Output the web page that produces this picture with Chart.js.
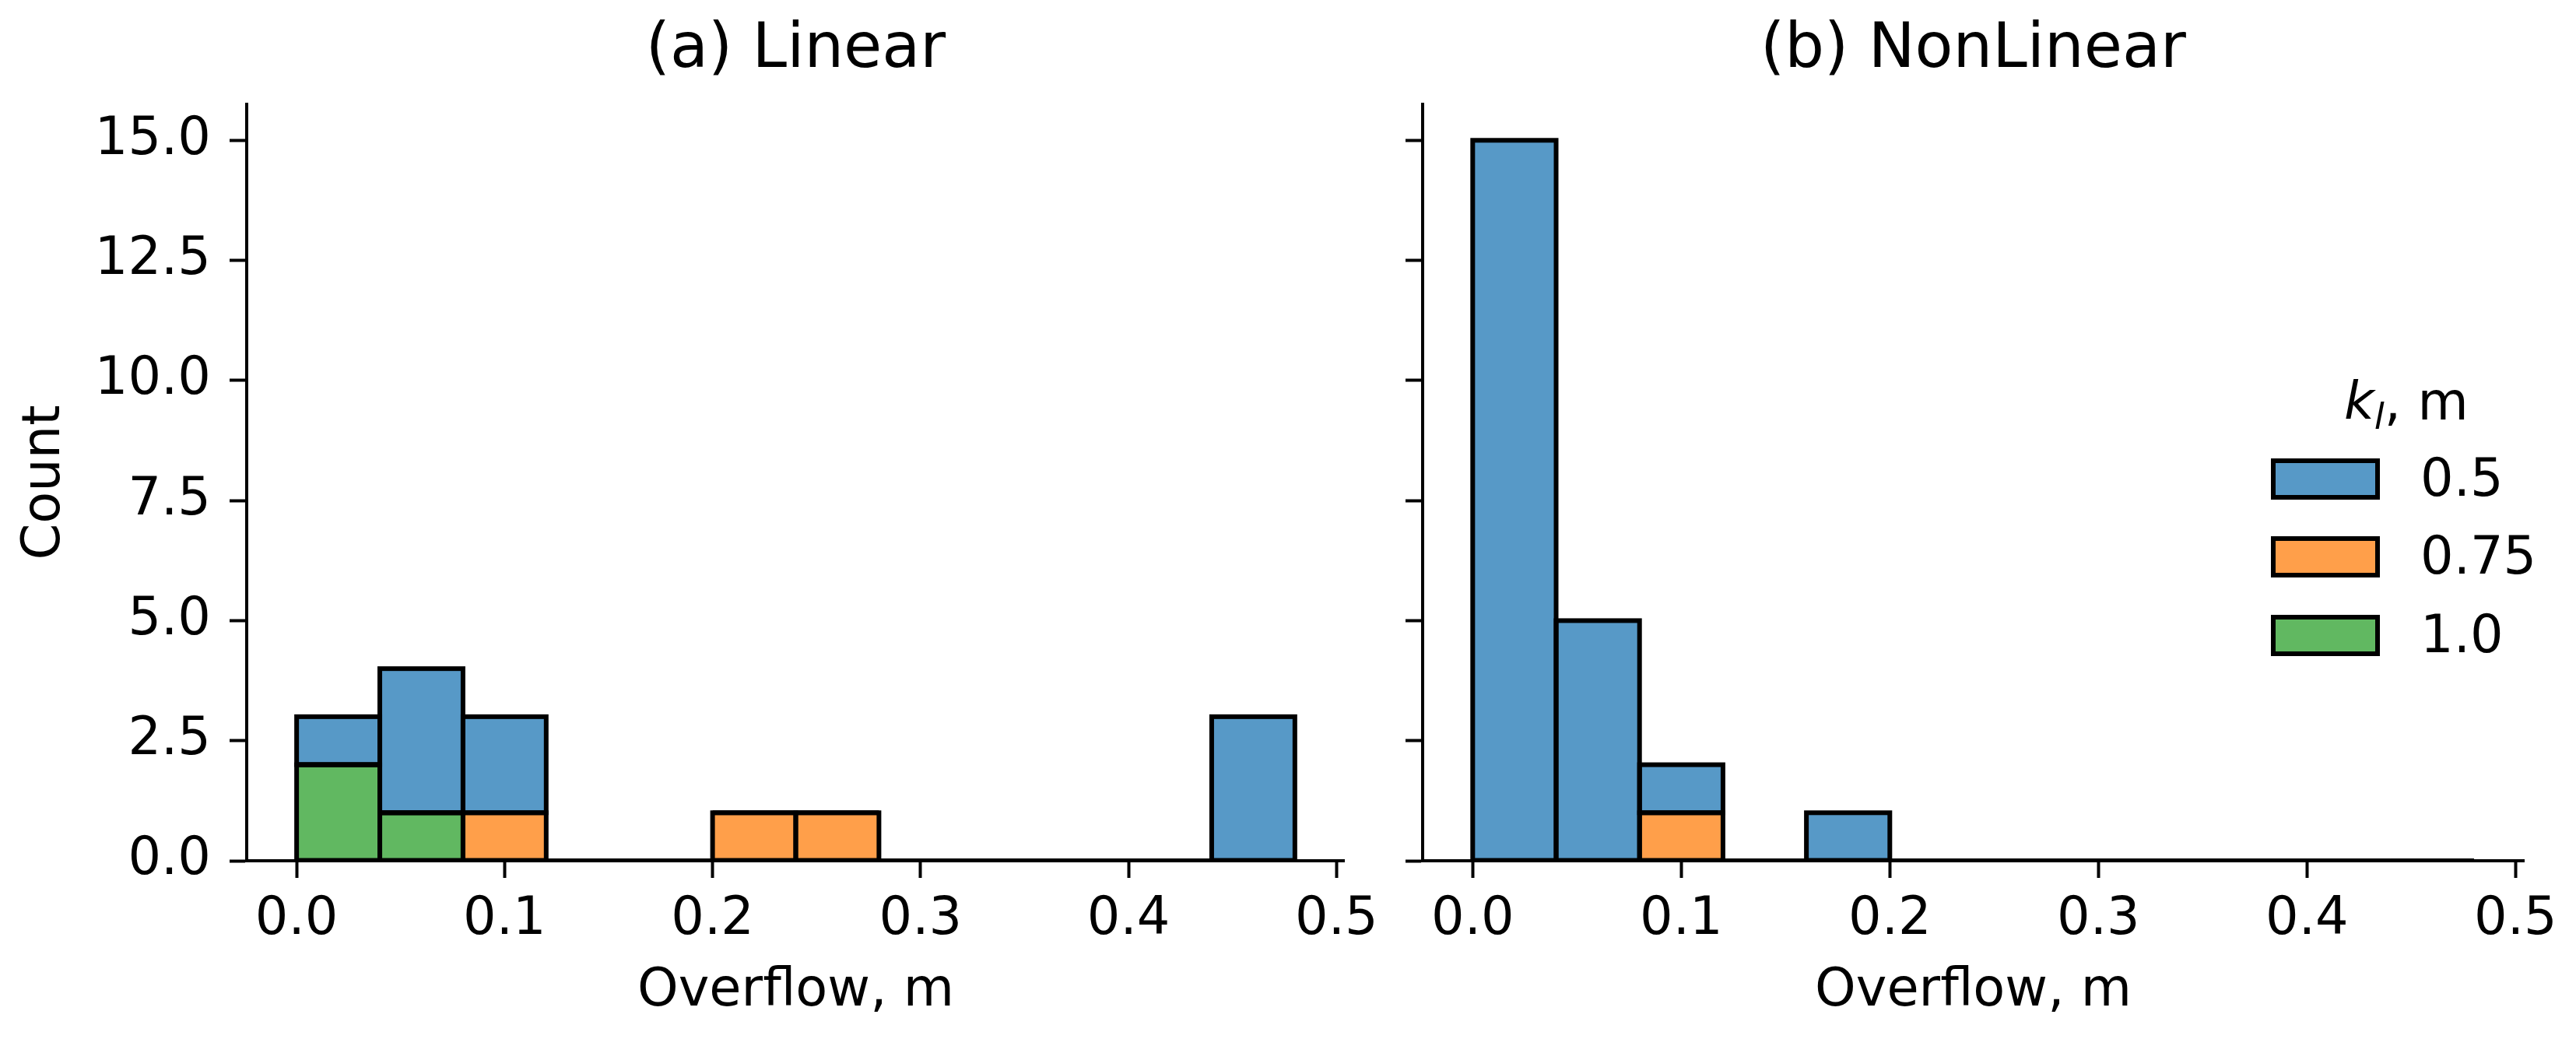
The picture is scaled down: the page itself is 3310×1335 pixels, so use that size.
<!DOCTYPE html>
<html>
<head>
<meta charset="utf-8">
<script src="https://cdn.jsdelivr.net/npm/chart.js@4.4.1/dist/chart.umd.min.js"></script>
<style>
  html, body { margin: 0; padding: 0; background: #fff; }
  #wrap { position: relative; width: 3310px; height: 1335px; overflow: hidden; font-family: 'DejaVu Sans', sans-serif; }
  canvas { position: absolute; top: 0; }
  #leftChart { left: 0; }
  #rightChart { left: 1785px; }
  .leg-title, .leg-label { position: absolute; font-size: 67px; line-height: 67px; color: #000; white-space: nowrap; }
  .leg-box { position: absolute; box-sizing: border-box; width: 140px; height: 53px; border: 6px solid #000; }
</style>
</head>
<body>
<div id="wrap">
  <canvas id="leftChart" width="1785" height="1335"></canvas>
  <canvas id="rightChart" width="1525" height="1335"></canvas>
  <div id="legend"></div>
</div>
<script>
// bins of 0.04 m, centres
const binCenters = [0.02, 0.06, 0.10, 0.14, 0.18, 0.22, 0.26, 0.30, 0.34, 0.38, 0.42, 0.46];
const kLevels = ['0.5', '0.75', '1.0'];
const kColors = ['#5799c7', '#ff9f4a', '#61b861'];

// (a) Linear - counts per bin
const linearK05 = [1, 3, 2, 0, 0, 0, 0, 0, 0, 0, 0, 3];
const linearK075 = [0, 0, 1, 0, 0, 1, 1, 0, 0, 0, 0, 0];
const linearK10 = [2, 1, 0, 0, 0, 0, 0, 0, 0, 0, 0, 0];

// (b) NonLinear - counts per bin
const nonlinearK05 = [15, 5, 1, 0, 1, 0, 0, 0, 0, 0, 0, 0];
const nonlinearK075 = [0, 0, 1, 0, 0, 0, 0, 0, 0, 0, 0, 0];
const nonlinearK10 = [0, 0, 0, 0, 0, 0, 0, 0, 0, 0, 0, 0];

const xTicks = [0, 0.1, 0.2, 0.3, 0.4, 0.5];
const yTicks = [0, 2.5, 5, 7.5, 10, 12.5, 15];

Chart.defaults.font.family = "'DejaVu Sans', sans-serif";
Chart.defaults.font.size = 67;
Chart.defaults.color = '#000';

// matplotlib-like edges: stroke centred on each bar outline, clipped to the axes
const barEdges = {
    id: 'barEdges',
    afterDatasetsDraw(chart) {
        const ctx = chart.ctx;
        const area = chart.chartArea;
        ctx.save();
        ctx.beginPath();
        ctx.rect(area.left, area.top, area.right - area.left, area.bottom - area.top);
        ctx.clip();
        ctx.lineWidth = 6;
        ctx.strokeStyle = '#000';
        chart.data.datasets.forEach((ds, i) => {
            chart.getDatasetMeta(i).data.forEach(el => {
                const p = el.getProps(['x', 'y', 'base', 'width'], true);
                ctx.strokeRect(p.x - p.width / 2, Math.min(p.y, p.base), p.width, Math.abs(p.base - p.y));
            });
        });
        ctx.restore();
    }
};

function makeDatasets(series) {
    // stack bottom -> top: 1.0, 0.75, 0.5
    const order = [2, 1, 0];
    return order.map(k => ({
        label: kLevels[k],
        data: series[k].map((c, i) => ({ x: binCenters[i], y: c })),
        backgroundColor: kColors[k],
        borderWidth: 0,
        barPercentage: 1,
        categoryPercentage: 1,
        stack: 'hist'
    }));
}

function makeChart(canvasId, title, series, opts) {
    return new Chart(document.getElementById(canvasId), {
        type: 'bar',
        data: { datasets: makeDatasets(series) },
        plugins: [barEdges],
        options: {
            responsive: false,
            animation: false,
            layout: { padding: { left: 0, right: opts.padRight, top: 0, bottom: 0 } },
            plugins: {
                legend: { display: false },
                tooltip: { enabled: false },
                title: {
                    display: true,
                    text: title,
                    fullSize: false,
                    font: { size: 80, weight: 'normal' },
                    padding: { top: 17, bottom: 21 },
                    color: '#000'
                }
            },
            scales: {
                x: {
                    type: 'linear',
                    min: -0.024,
                    max: 0.504,
                    offset: false,
                    afterBuildTicks: s => { s.ticks = xTicks.map(v => ({ value: v })); },
                    afterFit: s => { s.height = 229; },
                    ticks: {
                        padding: 14,
                        maxRotation: 0,
                        autoSkip: false,
                        callback: v => Number(v).toFixed(1)
                    },
                    grid: { offset: false, drawOnChartArea: false, drawTicks: true, tickLength: 22, tickWidth: 4, tickColor: '#000', color: '#000' },
                    border: { display: true, color: '#000', width: 4 },
                    title: { display: true, text: 'Overflow, m', font: { size: 67 }, padding: { top: 0, bottom: 20 } }
                },
                y: {
                    min: 0,
                    max: 15.75,
                    stacked: true,
                    afterBuildTicks: s => { s.ticks = yTicks.map(v => ({ value: v })); },
                    afterFit: s => { s.width = opts.yWidth; },
                    ticks: {
                        padding: 24,
                        autoSkip: false,
                        callback: v => opts.showY ? Number(v).toFixed(1) : ''
                    },
                    grid: { drawOnChartArea: false, drawTicks: true, tickLength: 22, tickWidth: 4, tickColor: '#000', color: '#000' },
                    border: { display: true, color: '#000', width: 4 },
                    title: { display: opts.showY, text: 'Count', font: { size: 67 }, padding: { top: 18, bottom: 0 } }
                }
            }
        }
    });
}

makeChart('leftChart', '(a) Linear', [linearK05, linearK075, linearK10], { yWidth: 317, padRight: 52, showY: true });
makeChart('rightChart', '(b) NonLinear', [nonlinearK05, nonlinearK075, nonlinearK10], { yWidth: 43, padRight: 67, showY: false });

// legend inside panel (b)
const legend = document.getElementById('legend');
legend.innerHTML = '<div class="leg-title" style="left:3012px;top:483px;"><i>k<sub style="font-size:0.7em;vertical-align:-0.25em;">l</sub></i>, m</div>';
const legTops = [589, 689, 790];
kLevels.forEach((lbl, k) => {
    legend.innerHTML += `<div class="leg-box" style="left:2918px;top:${legTops[k]}px;background:${kColors[k]};"></div>`;
    legend.innerHTML += `<div class="leg-label" style="left:3110px;top:${legTops[k] - 8}px;">${lbl}</div>`;
});
</script>
</body>
</html>
